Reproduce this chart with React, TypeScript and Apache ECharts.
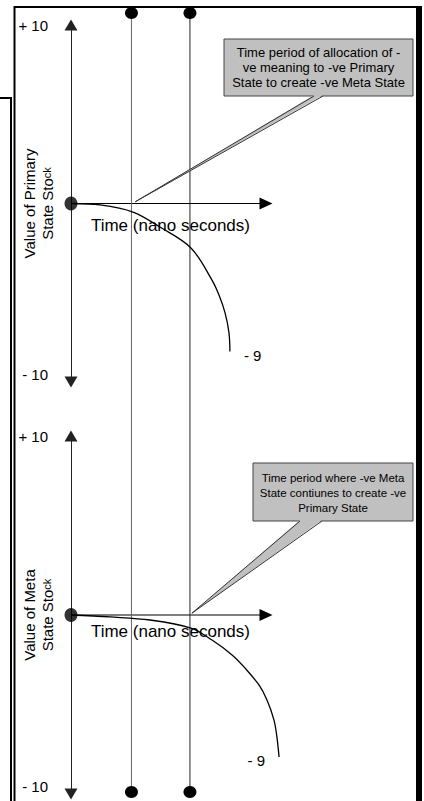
import React, { useEffect, useRef } from "react";
import * as echarts from "echarts";

// ---- data ----
const timeMin = 0;
const timeMax = 11;
const timeArrowEnd = 10;
const markerTimeMax = 10;
const valueMin = -10;
const valueMax = 10;
const valueInterval = 20;
const tickLabels: Record<string, string> = { "10": "+ 10", "-10": "- 10" };
const markerTimes = [3.1, 6.1];
const primaryTime = [0, 1.49, 3.18, 4.56, 6.15, 7.23, 7.59, 7.9, 8.1, 8.15];
const primaryValue = [0, -0.08, -0.48, -1.32, -2.49, -4.29, -5.13, -6.13, -7.23, -8.29];
const metaTime = [0, 2.0, 4.05, 6.15, 7.23, 8.26, 8.92, 9.64, 10.05, 10.41, 10.56, 10.67];
const metaValue = [0, -0.11, -0.28, -0.73, -1.4, -2.23, -2.96, -3.91, -4.75, -5.87, -6.82, -7.93];
const endLabel = "- 9";
const panelTitles = ["Value of Primary\nState Sto{s|ck}", "Value of Meta\nState Sto{s|ck}"];
const xName = "Time (nano seconds)";
const xNameTime = 5.1;
const notes = [
  "Time period of allocation of -\nve meaning to -ve Primary\nState to create -ve Meta State",
  "Time period where -ve Meta\nState contiunes to create -ve\nPrimary State",
];
const noteTargets = [
  [3.3, 0.1],
  [6.2, 0.1],
];

const FONT = "'Liberation Sans', Arial, Helvetica, sans-serif";
const PX_PER_T = 19.5;

export default function App() {
  const ref = useRef<HTMLDivElement>(null);

  useEffect(() => {
    const chart = echarts.init(ref.current!, null, { renderer: "svg" });

    const panels = [
      { top: 25, height: 357, time: primaryTime, value: primaryValue, pos: "right", nameDy: 13 },
      { top: 436, height: 358, time: metaTime, value: metaValue, pos: "left", nameDy: 8 },
    ];

    const grid: any[] = panels.map((p) => ({
      left: 71,
      width: (timeMax - timeMin) * PX_PER_T,
      top: p.top,
      height: p.height,
      containLabel: false,
      outerBoundsMode: "none",
    }));
    grid.push({
      left: 71,
      width: (markerTimeMax - timeMin) * PX_PER_T,
      top: 13,
      height: 779,
      containLabel: false,
      outerBoundsMode: "none",
    });

    const xAxis: any[] = panels.map((p, i) => ({
      type: "value",
      gridIndex: i,
      min: timeMin,
      max: timeMax,
      axisLine: { show: false },
      axisTick: { show: false },
      axisLabel: { show: false },
      splitLine: { show: false },
    }));
    xAxis.push({
      type: "value",
      gridIndex: 2,
      min: timeMin,
      max: markerTimeMax,
      show: false,
    });

    const yAxis: any[] = panels.map((p, i) => ({
      type: "value",
      gridIndex: i,
      min: valueMin,
      max: valueMax,
      interval: valueInterval,
      axisLine: {
        show: true,
        onZero: false,
        symbol: ["triangle", "triangle"],
        symbolSize: [13, 11],
        lineStyle: { color: "#222", width: 1 },
      },
      axisTick: { show: false },
      splitLine: { show: false },
      axisLabel: {
        show: true,
        margin: 23,
        fontFamily: FONT,
        fontSize: 15,
        color: "#000",
        verticalAlignMinLabel: "bottom",
        verticalAlignMaxLabel: "middle",
        formatter: (v: number) => tickLabels[String(v)] ?? "",
      },
      name: panelTitles[i],
      nameLocation: "middle",
      nameGap: 15,
      nameMoveOverlap: false,
      nameTextStyle: {
        fontFamily: FONT,
        fontSize: 15,
        color: "#000",
        lineHeight: 18,
        rich: { s: { fontFamily: FONT, fontSize: 11, color: "#000", lineHeight: 18 } },
      },
    }));
    yAxis.push({ type: "value", gridIndex: 2, min: 0, max: 1, show: false });

    const series: any[] = [];
    panels.forEach((p, i) => {
      const data = p.time.map((t, k) => [t, p.value[k]]);
      const last = data[data.length - 1];
      // time axis arrow
      series.push({
        type: "line",
        xAxisIndex: i,
        yAxisIndex: i,
        data: [
          { value: [timeMin, 0], symbol: "none" },
          { value: [timeArrowEnd, 0], symbol: "triangle", symbolSize: [12, 13], symbolRotate: -90 },
        ],
        showSymbol: true,
        lineStyle: { color: "#000", width: 1 },
        itemStyle: { color: "#000" },
        z: 2,
        silent: true,
      });
      series.push({
        type: "line",
        xAxisIndex: i,
        yAxisIndex: i,
        data,
        smooth: 0.35,
        symbol: "none",
        clip: false,
        lineStyle: { color: "#000", width: 1.3 },
        z: 3,
        markPoint: {
          symbol: "circle",
          symbolSize: 2,
          itemStyle: { color: "rgba(0,0,0,0)" },
          data: [{ coord: last, value: endLabel }],
          label: {
            show: true,
            position: p.pos,
            distance: 13,
            offset: [0, 4],
            formatter: endLabel,
            fontFamily: FONT,
            fontSize: 15,
            color: "#000",
          },
        },
      });
      series.push({
        type: "scatter",
        xAxisIndex: i,
        yAxisIndex: i,
        data: [[0, 0]],
        symbol: "circle",
        symbolSize: [13, 14],
        itemStyle: { color: "#000" },
        z: 6,
      });
    });
    const markerColors = ["#666", "#222"];
    markerTimes.forEach((t, k) => {
      series.push({
        type: "line",
        xAxisIndex: 2,
        yAxisIndex: 2,
        data: [
          [t, 0],
          [t, 1],
        ],
        symbol: "circle",
        symbolSize: [13, 12],
        showSymbol: true,
        clip: false,
        lineStyle: { color: markerColors[k], width: 1 },
        itemStyle: { color: "#000" },
        z: 2,
      });
    });

    chart.setOption({
      animation: false,
      backgroundColor: "#fff",
      grid,
      xAxis,
      yAxis,
      series,
    });

    const tips = noteTargets.map(
      (pt, i) => chart.convertToPixel({ xAxisIndex: i, yAxisIndex: i } as any, pt) as number[]
    );
    const nameAnchors = panels.map(
      (p, i) => chart.convertToPixel({ xAxisIndex: i, yAxisIndex: i } as any, [xNameTime, 0]) as number[]
    );

    const boxes = [
      { x: 224, y: 39, w: 189, h: 57, bx1: 314, bx2: 323, cy: 67, fs: 13, lh: 15 },
      { x: 253, y: 463, w: 160, h: 58, bx1: 300, bx2: 322, cy: 493, fs: 11.5, lh: 15 },
    ];

    const graphic: any[] = [
      // frame
      { type: "line", shape: { x1: 14, y1: 7, x2: 419, y2: 7 }, style: { stroke: "#000", lineWidth: 2 } },
      { type: "line", shape: { x1: 14.5, y1: 6, x2: 14.5, y2: 801 }, style: { stroke: "#000", lineWidth: 2 } },
      { type: "line", shape: { x1: 0, y1: 98, x2: 12, y2: 98 }, style: { stroke: "#000", lineWidth: 2 } },
      { type: "line", shape: { x1: 11, y1: 97, x2: 11, y2: 801 }, style: { stroke: "#000", lineWidth: 2 } },
      { type: "rect", shape: { x: 416, y: 6, width: 6, height: 795 }, style: { fill: "#000" } },
    ];

    nameAnchors.forEach((a, i) => {
      graphic.push({
        type: "text",
        x: a[0],
        y: a[1] + panels[i].nameDy,
        style: {
          text: xName,
          fill: "#000",
          font: `17px ${FONT}`,
          textAlign: "center",
          textVerticalAlign: "top",
          align: "center",
          verticalAlign: "top",
        },
        z: 1,
      });
    });

    boxes.forEach((b, i) => {
      const tip = tips[i];
      graphic.push({
        type: "rect",
        shape: { x: b.x, y: b.y, width: b.w, height: b.h },
        style: { fill: "#c0c0c0", stroke: "#444", lineWidth: 1 },
        z: 10,
      });
      graphic.push({
        type: "polygon",
        shape: { points: [[b.bx1, b.y + b.h - 1], [b.bx2, b.y + b.h - 1], tip] },
        style: { fill: "#c0c0c0" },
        z: 11,
      });
      graphic.push({
        type: "polyline",
        shape: { points: [[b.bx1, b.y + b.h], tip, [b.bx2, b.y + b.h]] },
        style: { stroke: "#333", lineWidth: 1, fill: null },
        z: 12,
      });
      graphic.push({
        type: "text",
        x: b.x + b.w / 2,
        y: b.cy,
        style: {
          text: notes[i],
          fill: "#000",
          font: `${b.fs}px ${FONT}`,
          textAlign: "center",
          textVerticalAlign: "middle",
          align: "center",
          verticalAlign: "middle",
          lineHeight: b.lh,
        },
        z: 13,
      });
    });

    chart.setOption({ graphic });

    return () => chart.dispose();
  }, []);

  return (
    <div
      ref={ref}
      style={{ position: "fixed", left: 0, top: 0, width: 424, height: 801, background: "#fff" }}
    />
  );
}
